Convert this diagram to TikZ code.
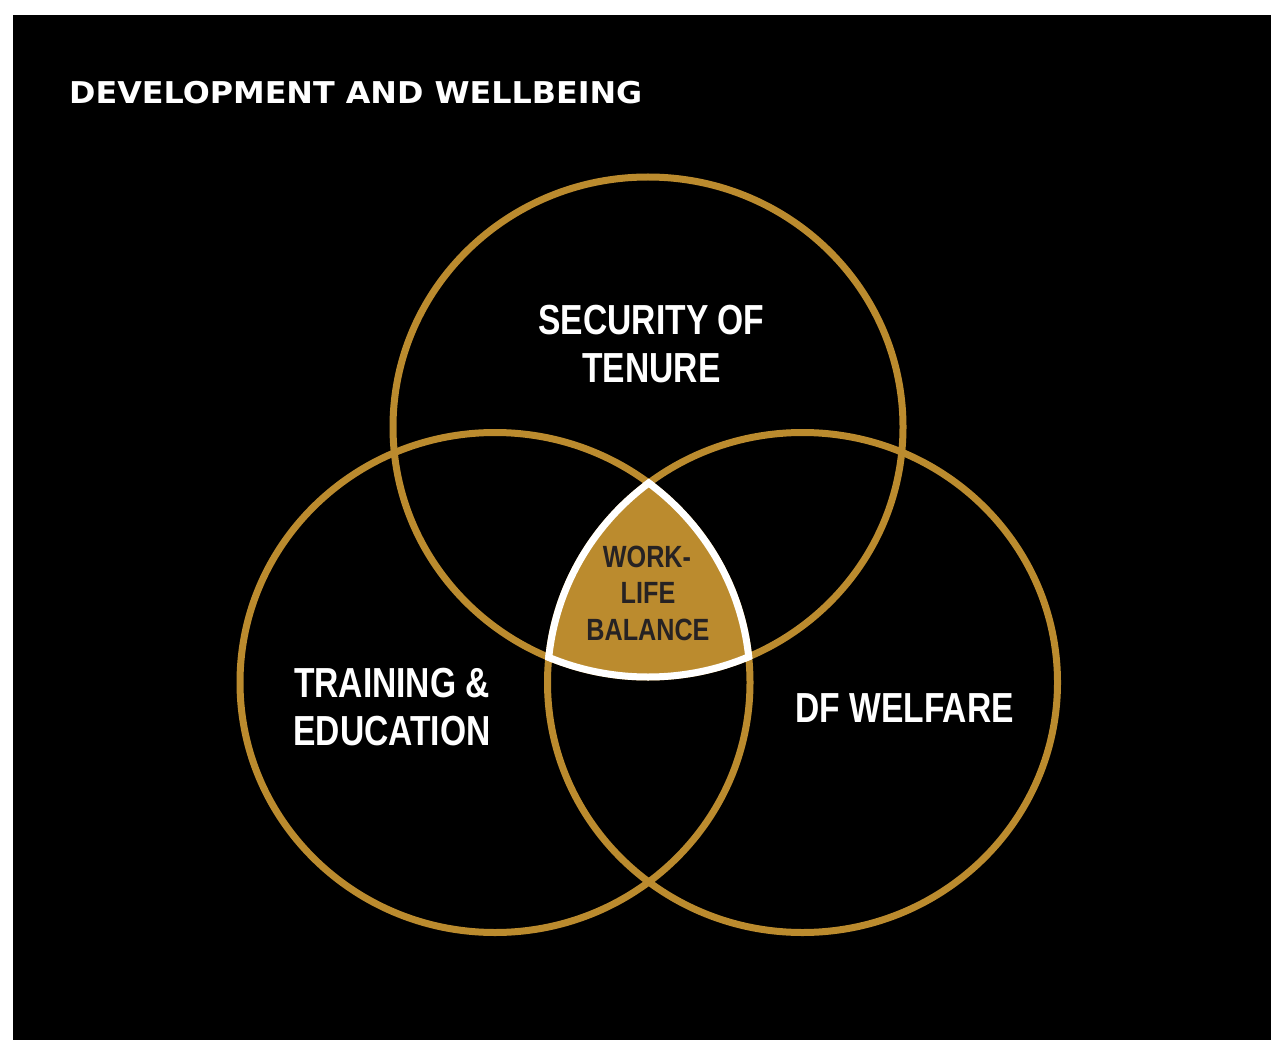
\documentclass[tikz,border=0pt]{standalone}
\usepackage{fontspec}
\newfontfamily\titlefont{DejaVu Sans}[FakeStretch=1.06]
\newfontfamily\condfont{Liberation Sans}[FakeStretch=0.8]
\newfontfamily\condfontb{Liberation Sans}[FakeStretch=0.82]
\definecolor{gold}{RGB}{187,139,46}
\definecolor{ink}{RGB}{38,34,35}
\begin{document}
\begin{tikzpicture}[x=1pt,y=-1pt,
  ring/.style={draw=gold,line width=7pt},
  rim/.style={draw=white,line width=7pt},
  lbl/.style={text=white,font=\condfont\bfseries\fontsize{42}{47}\selectfont,inner sep=0pt,anchor=base},
  wlb/.style={text=ink,font=\condfontb\bfseries\fontsize{30.7}{36}\selectfont,inner sep=0pt,anchor=base}]
\useasboundingbox (0,0) rectangle (1271,1040);
\fill[white] (0,0) rectangle (1271,1040);
\fill[black] (13,15) rectangle (1271,1040);
\coordinate (T) at (648,427);
\coordinate (L) at (495,682.5);
\coordinate (R) at (802.5,682.5);
\def\rx{255pt}
\def\ry{250pt}
\def\cx{258.5pt}
\def\cy{253.5pt}
% rings
\draw[ring] (T) ellipse[x radius=\rx,y radius=\ry];
\draw[ring] (L) ellipse[x radius=\rx,y radius=\ry];
\draw[ring] (R) ellipse[x radius=\rx,y radius=\ry];
% central region
\begin{scope}
  \clip (T) ellipse[x radius=\rx,y radius=\ry];
  \clip (L) ellipse[x radius=\rx,y radius=\ry];
  \fill[gold] (R) ellipse[x radius=\rx,y radius=\ry];
\end{scope}
\begin{scope}
  \clip (L) ellipse[x radius=\cx,y radius=\cy];
  \clip (R) ellipse[x radius=\cx,y radius=\cy];
  \draw[rim] (T) ellipse[x radius=\rx,y radius=\ry];
\end{scope}
\begin{scope}
  \clip (T) ellipse[x radius=\cx,y radius=\cy];
  \clip (R) ellipse[x radius=\cx,y radius=\cy];
  \draw[rim] (L) ellipse[x radius=\rx,y radius=\ry];
\end{scope}
\begin{scope}
  \clip (T) ellipse[x radius=\cx,y radius=\cy];
  \clip (L) ellipse[x radius=\cx,y radius=\cy];
  \draw[rim] (R) ellipse[x radius=\rx,y radius=\ry];
\end{scope}
% texts
\node[anchor=base west,inner sep=0pt,text=white,font=\titlefont\bfseries\fontsize{30}{36}\selectfont] (title) at (69,104) {DEVELOPMENT AND WELLBEING};
\node[lbl] (sec1) at (651.5,335) {SECURITY OF};
\node[lbl] (sec2) at (651.5,382) {TENURE};
\node[lbl] (tr1) at (392,697) {TRAINING \&};
\node[lbl] (tr2) at (392,745) {EDUCATION};
\node[lbl] (dfw) at (904.5,722) {DF WELFARE};
\node[wlb] (wl1) at (647,567) {WORK-};
\node[wlb] (wl2) at (648,603) {LIFE};
\node[wlb] (wl3) at (648,640) {BALANCE};
\end{tikzpicture}
\end{document}
